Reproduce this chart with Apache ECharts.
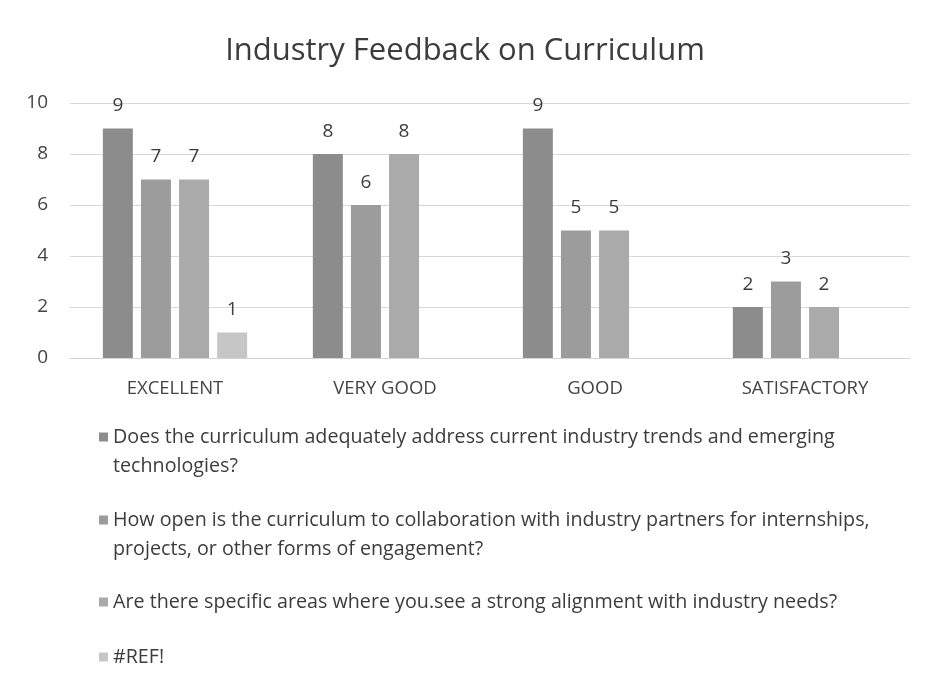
<!DOCTYPE html>
<html>
<head>
<meta charset="utf-8">
<script src="https://cdn.jsdelivr.net/npm/echarts@6/dist/echarts.min.js"></script>
<style>html,body{margin:0;padding:0;background:#fff;}#c{width:930px;height:684px;}</style>
</head>
<body>
<div id="c"></div>
<script>
const categories = ['EXCELLENT', 'VERY GOOD', 'GOOD', 'SATISFACTORY'];
const seriesNames = [
  'Does the curriculum adequately address current industry trends and emerging technologies?',
  'How open is the curriculum to collaboration with industry partners for internships, projects, or other forms of engagement?',
  'Are there specific areas where you.see a strong alignment with industry needs?',
  '#REF!'
];
const legendLines = [
  '\nDoes the curriculum adequately address current industry trends and emerging\ntechnologies?',
  '\nHow open is the curriculum to collaboration with industry partners for internships,\nprojects, or other forms of engagement?',
  'Are there specific areas where you.see a strong alignment with industry needs?',
  '#REF!'
];
const values1 = [9, 8, 9, 2];
const values2 = [7, 6, 5, 3];
const values3 = [7, 8, 5, 2];
const values4 = [1, null, null, null];
const yTicks = { min: 0, max: 10, interval: 2 };

const colors = ['#8c8c8c', '#9c9c9c', '#aaaaaa', '#c6c6c6'];
const allValues = [values1, values2, values3, values4];
const FONT = 'Open Sans';
const LH = 29;
const legendTops = [393.5, 476.5, 587.5, 642.5];

const chart = echarts.init(document.getElementById('c'));
chart.setOption({
  backgroundColor: '#ffffff',
  color: colors,
  title: {
    text: 'Industry Feedback on Curriculum',
    left: 'center',
    top: 31,
    textStyle: { fontFamily: FONT, fontSize: 31, fontWeight: 'normal', color: '#3c3c3c' }
  },
  legend: seriesNames.map((n, i) => ({
    orient: 'vertical',
    left: 99,
    top: legendTops[i],
    padding: 0,
    itemWidth: 9,
    itemHeight: 9,
    icon: 'rect',
    selectedMode: false,
    formatter: (name) => legendLines[seriesNames.indexOf(name)],
    textStyle: { fontFamily: FONT, fontSize: 19.7, color: '#3c3c3c', lineHeight: LH },
    data: [n]
  })),
  grid: { left: 70, right: 20, top: 103, bottom: 684 - 358, containLabel: false },
  xAxis: {
    type: 'category',
    data: categories,
    axisLine: { show: true, lineStyle: { color: '#d4d4d4', width: 1 } },
    axisTick: { show: false },
    axisLabel: { fontFamily: FONT, fontSize: 18.5, color: '#444444', margin: 21 }
  },
  yAxis: {
    type: 'value',
    min: yTicks.min,
    max: yTicks.max,
    interval: yTicks.interval,
    axisLine: { show: false },
    axisTick: { show: false },
    splitLine: { lineStyle: { color: '#d9d9d9', width: 1 } },
    axisLabel: { fontFamily: FONT, fontSize: 19, color: '#444444', margin: 22 }
  },
  series: seriesNames.map((n, i) => ({
    name: n,
    type: 'bar',
    data: allValues[i],
    barWidth: 30,
    barGap: '27%',
    itemStyle: { color: colors[i] },
    label: {
      show: true,
      position: 'top',
      distance: 13,
      fontFamily: FONT,
      fontSize: 19,
      color: '#3c3c3c'
    }
  }))
});
</script>
</body>
</html>
